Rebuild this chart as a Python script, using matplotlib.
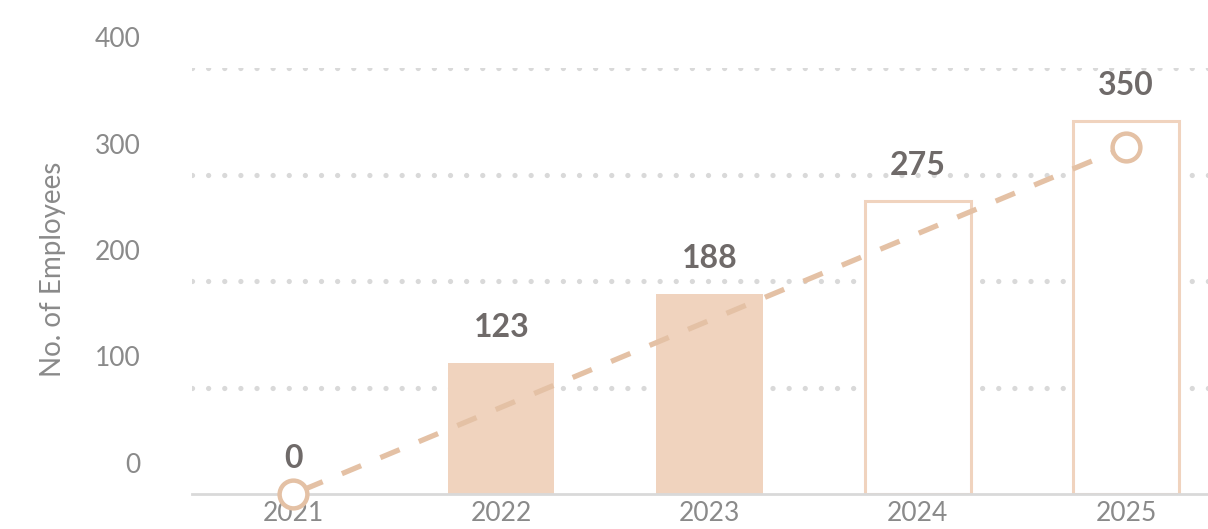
import matplotlib
matplotlib.use("Agg")
import matplotlib.pyplot as plt
from matplotlib.transforms import ScaledTranslation

plt.rcParams['font.family'] = ['Lato', 'DejaVu Sans']
plt.rcParams['lines.scale_dashes'] = False

years = ['2021', '2022', '2023', '2024', '2025']
employees = [0, 123, 188, 275, 350]
# first two years are actuals, the rest are projections
projected = [False, False, False, True, True]
trend_years = [0, 4]
trend_values = [0, 326]
yticks = [0, 100, 200, 300, 400]

bar_color = '#f0d3be'
trend_color = '#e4c1a5'
grid_color = '#d9d9d9'
text_gray = '#8a8a8a'
value_gray = '#6f6a69'

fig = plt.figure(figsize=(12.08, 5.29), dpi=100)
ax = fig.add_axes([192 / 1208, 35 / 529, 1016 / 1208, 426 / 529])

x = list(range(len(years)))
for xi, v, proj in zip(x, employees, projected):
    if proj:
        ax.bar(xi, v, width=0.51, color='white', edgecolor=bar_color,
               linewidth=2.2, zorder=2)
    else:
        ax.bar(xi, v, width=0.51, color=bar_color, linewidth=0, zorder=2)
    ax.annotate(str(v), (xi, v), xytext=(0, 15), textcoords='offset points',
                ha='center', va='bottom', fontsize=23, fontweight='bold',
                color=value_gray, zorder=5)

ax.plot(trend_years, trend_values, color=trend_color, linewidth=3.8,
        linestyle=(22, (15, 15)), dash_capstyle='butt', zorder=3,
        clip_on=False)
ax.plot(trend_years, trend_values, linestyle='none', marker='o',
        markersize=20, markerfacecolor='white', markeredgecolor=trend_color,
        markeredgewidth=3.2, zorder=4, clip_on=False)

ax.set_xlim(-0.486, 4.394)
ax.set_ylim(0, 400)
ax.set_xticks(x)
ax.set_xticklabels(years)
ax.set_yticks(yticks)
ax.tick_params(axis='both', length=0, labelsize=19, labelcolor=text_gray)
ax.tick_params(axis='x', pad=5)
ax.tick_params(axis='y', pad=37)
# y labels sit a little above their grid lines
shift = ScaledTranslation(0, 0.31, fig.dpi_scale_trans)
for lab in ax.get_yticklabels():
    lab.set_transform(lab.get_transform() + shift)

for y in yticks[1:]:
    ax.axhline(y, color=grid_color, linewidth=3.8, linestyle=(0, (0.01, 11.6)),
               dash_capstyle='round', zorder=1)

for side in ['top', 'right', 'left']:
    ax.spines[side].set_visible(False)
ax.spines['bottom'].set_color(grid_color)
ax.spines['bottom'].set_linewidth(2)

ax.set_ylabel('No. of Employees', fontsize=20, color=text_gray)
ax.yaxis.set_label_coords(-0.124, 0.528)

fig.savefig('out.png', dpi=100)
